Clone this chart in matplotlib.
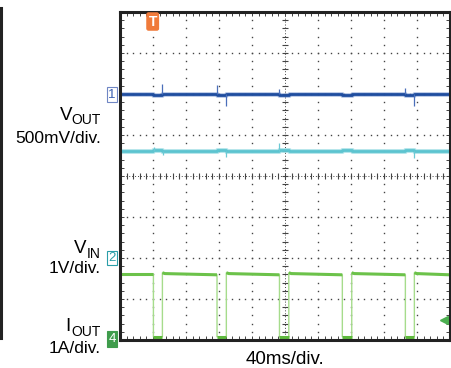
import numpy as np
import matplotlib.pyplot as plt
from matplotlib.lines import Line2D

plt.rcParams['font.family'] = ['Liberation Sans', 'DejaVu Sans']

W, H = 452, 368

# time base 40 ms/div, 10 div; vertical in divisions (0..8)
t_span = 400.0

# VIN (ch2) pulse edges, ms
vin_fall = [40.5, 117.6, 193.3, 269.5, 345.9]
vin_rise = [51.4, 128.9, 204.6, 280.9, 356.8]
vin_first_high = 1.60
vin_high_start = 1.64
vin_high_end = 1.59
vin_low = 0.08

# VOUT (ch1) level and glitches
vout_level = 6.00
vout_dip = 5.985
vout_spike_t = [51.3, 117.6, 128.5, 193.3, 345.7, 356.6]
vout_spike_v = [6.24, 6.22, 5.71, 6.12, 6.15, 5.71]

# cyan (ch3) level and glitches
ch3_level = 4.60
ch3_raised = 4.64
ch3_spike_t = [41.4, 51.6, 128.5, 192.5, 356.6]
ch3_spike_v = [4.71, 4.51, 4.46, 4.81, 4.43]

fig = plt.figure(figsize=(W / 100, H / 100), dpi=100)
ax = fig.add_axes([120 / W, 1 - 340 / H, 330 / W, 328 / H])
ax.set_xlim(0, t_span)
ax.set_ylim(0, 8)


def px(x, y):
    return x / W, 1 - y / H


# graticule dots
for gx in np.arange(40, 400, 40):
    if gx == 200:
        continue
    ys = np.arange(0, 8.01, 0.2)
    ax.plot(np.full_like(ys, gx), ys, ls='none', marker='s', ms=1.0, color='#444444', mew=0)
for gy in range(1, 8):
    if gy == 4:
        continue
    xs = np.arange(0, 400.1, 8)
    ax.plot(xs, np.full_like(xs, gy), ls='none', marker='s', ms=1.0, color='#444444', mew=0)

# centre lines with ticks
ax.axvline(200, color='#444444', lw=0.7, ls=(0, (1, 2)))
ax.axhline(4, color='#444444', lw=0.7, ls=(0, (1, 2)))
ys = np.arange(0, 8.01, 0.2)
ax.plot(np.full_like(ys, 200), ys, ls='none', marker='_', ms=4, mew=0.8, color='#444444')
xs = np.arange(0, 400.1, 8)
ax.plot(xs, np.full_like(xs, 4), ls='none', marker='|', ms=4, mew=0.8, color='#444444')

# VOUT trace
bt = [0]
bv = [vout_level]
for f, r in zip(vin_fall, vin_rise):
    bt += [f, f, r, r]
    bv += [vout_level, vout_dip, vout_dip, vout_level]
bt.append(t_span)
bv.append(vout_level)
ax.plot(bt, bv, color='#5a7fc4', lw=3.4, alpha=0.45, solid_capstyle='butt')
ax.plot(bt, bv, color='#1f4d9f', lw=2.0, solid_capstyle='butt')
ax.vlines(vout_spike_t, vout_level, vout_spike_v, color='#4a6fba', lw=0.9)

# cyan trace
ct = [0]
cv = [ch3_level]
for f, r in zip(vin_fall, vin_rise):
    ct += [f, f, r, r]
    cv += [ch3_level, ch3_raised, ch3_raised, ch3_level]
ct.append(t_span)
cv.append(ch3_level)
ax.plot(ct, cv, color='#8ad6df', lw=3.6, alpha=0.6, solid_capstyle='butt')
ax.plot(ct, cv, color='#5cc4d0', lw=2.0, solid_capstyle='butt')
ax.vlines(ch3_spike_t, ch3_level, ch3_spike_v, color='#6cc9d4', lw=0.9)

# VIN trace: thin light edges, thick flat parts
gt = [0, vin_fall[0]]
gv = [vin_first_high, vin_first_high]
for i, (f, r) in enumerate(zip(vin_fall, vin_rise)):
    gt += [f, r, r]
    gv += [vin_low, vin_low, vin_high_start]
    end = vin_fall[i + 1] if i + 1 < len(vin_fall) else t_span
    gt += [r + 3, end]
    gv += [vin_high_start - 0.02, vin_high_end]
ax.plot(gt, gv, color='#a6dc8c', lw=1.0)
ax.plot([0, vin_fall[0]], [vin_first_high, vin_first_high], color='#6cc24a', lw=2.2, solid_capstyle='butt')
for i, (f, r) in enumerate(zip(vin_fall, vin_rise)):
    ax.plot([f, r], [vin_low, vin_low], color='#5db83c', lw=2.2, solid_capstyle='butt')
    end = vin_fall[i + 1] if i + 1 < len(vin_fall) else t_span
    ax.plot([r, r + 3, end], [vin_high_start, vin_high_start - 0.02, vin_high_end],
            color='#6cc24a', lw=2.2, solid_capstyle='butt')

# frame and border ticks
ax.set_xticks(np.arange(0, 401, 40))
ax.set_xticks(np.arange(0, 401, 8), minor=True)
ax.set_yticks(np.arange(0, 9, 1))
ax.set_yticks(np.arange(0, 8.01, 0.2), minor=True)
ax.tick_params(which='both', direction='in', length=3, width=0.7, color='#444444',
               top=True, right=True, labelbottom=False, labelleft=False)
for s in ax.spines.values():
    s.set_linewidth(2.2)
    s.set_color('#222222')

# channel markers
fig.text(*px(112, 94.5), '1', ha='center', va='center', fontsize=9.5, color='#3a5fb0',
         bbox=dict(boxstyle='square,pad=0.1', fc='white', ec='#6f86c4', lw=0.8))
fig.text(*px(112, 258), '2', ha='center', va='center', fontsize=9.5, color='#2a9ea8',
         bbox=dict(boxstyle='square,pad=0.1', fc='white', ec='#2a9ea8', lw=0.8))
fig.text(*px(112, 339), '4', ha='center', va='center', fontsize=9.5, color='white',
         bbox=dict(boxstyle='square,pad=0.12', fc='#3f9c4c', ec='#3f9c4c', lw=0.8))
fig.text(*px(152.7, 21.5), 'T', ha='center', va='center', fontsize=10, color='white', fontweight='bold',
         bbox=dict(boxstyle='round,pad=0.12', fc='#f07a3a', ec='#f07a3a', lw=0.8))
ax.plot([t_span * 0.982], [0.5], marker='<', ms=6, color='#4caf50', clip_on=False)

# left labels (letter + subscript drawn separately)
fig.text(*px(72, 120), 'V', ha='right', va='baseline', fontsize=13.5)
fig.text(*px(101, 123.5), 'OUT', ha='right', va='baseline', fontsize=10)
fig.text(*px(101, 143), '500mV/div.', ha='right', va='baseline', fontsize=12.5)
fig.text(*px(86.5, 253), 'V', ha='right', va='baseline', fontsize=13.5)
fig.text(*px(101, 257.5), 'IN', ha='right', va='baseline', fontsize=10)
fig.text(*px(101, 273), '1V/div.', ha='right', va='baseline', fontsize=12.5)
fig.text(*px(70.5, 331), 'I', ha='right', va='baseline', fontsize=13.5)
fig.text(*px(101, 336.5), 'OUT', ha='right', va='baseline', fontsize=10)
fig.text(*px(101, 353), '1A/div.', ha='right', va='baseline', fontsize=12.5)
fig.text(*px(285, 364.5), '40ms/div.', ha='center', va='baseline', fontsize=13.5)

fig.add_artist(Line2D([1.5 / W, 1.5 / W], [1 - 8 / H, 1 - 338 / H], color='#222222', lw=2.2))

fig.savefig('out.png', dpi=100)
